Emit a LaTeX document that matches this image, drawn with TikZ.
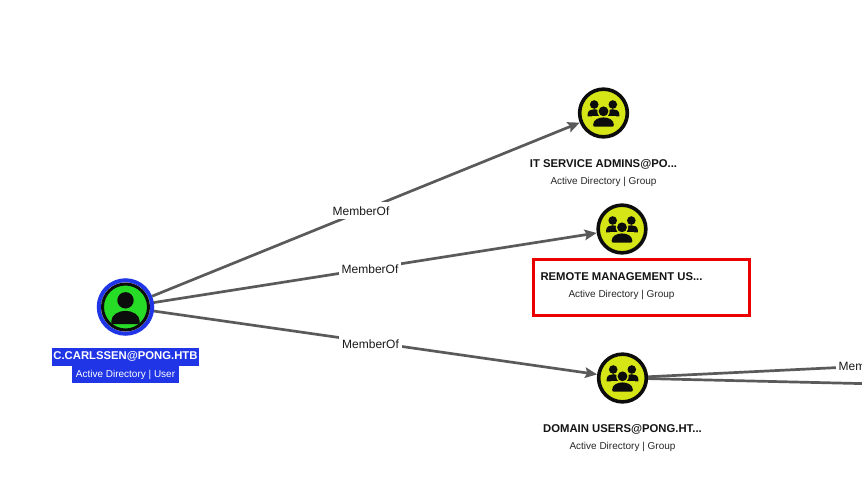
\documentclass[tikz,border=0pt]{standalone}
\usepackage{fontspec}
\usetikzlibrary{arrows.meta}
\setmainfont{Liberation Sans}
\definecolor{edgegray}{HTML}{5A5A5A}
\definecolor{grpyellow}{HTML}{D6E516}
\definecolor{usrgreen}{HTML}{27DC27}
\definecolor{selblue}{HTML}{1F35E6}
\definecolor{inkblack}{HTML}{0C0C0C}
\tikzset{
  groupnode/.style={circle,draw=inkblack,line width=3.6pt,fill=grpyellow,minimum size=47.7pt,inner sep=0pt},
  usernode/.style={circle,draw=inkblack,line width=3pt,fill=usrgreen,minimum size=46pt,inner sep=0pt},
  userring/.style={circle,draw=selblue,line width=4pt,minimum size=53.5pt,inner sep=0pt},
  rel/.style={draw=edgegray,line width=2.7pt},
  relarrow/.style={rel,-{Stealth[length=12pt,width=10.5pt,inset=2pt]}},
  edgelabel/.style={fill=white,inner xsep=3pt,inner ysep=2pt,text height=11pt,text depth=1.5pt,font=\fontsize{12}{14}\selectfont,text=black!90},
  titlelabel/.style={font=\bfseries\fontsize{11.3}{14}\selectfont,text=black!92,inner sep=0pt},
  sublabel/.style={font=\fontsize{10}{12}\selectfont,text=black!85,inner sep=0pt},
  seltitle/.style={titlelabel,text=white,fill=selblue,minimum width=147pt,minimum height=18pt},
  selsub/.style={sublabel,text=white,fill=selblue,minimum width=107pt,minimum height=16.5pt},
  redbox/.style={draw=red!92!black,line width=3pt,minimum width=216pt,minimum height=55.5pt,inner sep=0pt}
}
\newcommand{\groupicon}[1]{%
  \begin{scope}[shift={(#1)}]
    \fill[inkblack] (-9.3,-8.5) circle (4.3);
    \fill[inkblack] (9.3,-8.5) circle (4.3);
    \fill[inkblack] (-15.8,3.4) -- (-15.8,1) .. controls (-15.8,-2.5) and (-12,-3.8) .. (-9.3,-3.8) .. controls (-7,-3.8) and (-5.5,-3) .. (-4.5,-2.2) -- (-4.5,3.4) -- cycle;
    \fill[inkblack] (15.8,3.4) -- (15.8,1) .. controls (15.8,-2.5) and (12,-3.8) .. (9.3,-3.8) .. controls (7,-3.8) and (5.5,-3) .. (4.5,-2.2) -- (4.5,3.4) -- cycle;
    \fill[grpyellow] (0,-1.7) circle (6.2);
    \fill[inkblack] (0,-1.7) circle (4.9);
    \fill[grpyellow] (-12,15) rectangle (12,3.2);
    \fill[inkblack] (-9,13.6) .. controls (-10.3,13.6) and (-10.3,12.6) .. (-10.3,11.5) .. controls (-10.3,7) and (-5,4.4) .. (0,4.4) .. controls (5,4.4) and (10.3,7) .. (10.3,11.5) .. controls (10.3,12.6) and (10.3,13.6) .. (9,13.6) -- cycle;
  \end{scope}}
\newcommand{\usericon}[1]{%
  \begin{scope}[shift={(#1)}]
    \fill[inkblack] (0,-6.7) circle (8.2);
    \fill[inkblack] (-12.5,17) .. controls (-14.2,17) and (-14.2,16) .. (-14.2,14) .. controls (-14.2,8) and (-7,3.8) .. (0,3.8) .. controls (7,3.8) and (14.2,8) .. (14.2,14) .. controls (14.2,16) and (14.2,17) .. (12.5,17) -- cycle;
  \end{scope}}
\begin{document}
\begin{tikzpicture}[x=1pt,y=-1pt]
\useasboundingbox (0,0) rectangle (862,499);
\clip (0,0) rectangle (862,499);
% nodes
\node[userring] (ring) at (125.5,307) {};
\node[usernode] (user) at (125.5,307) {};
\node[groupnode] (g1) at (603.5,113) {};
\node[groupnode] (g2) at (622,229) {};
\node[groupnode] (g3) at (622.5,378) {};
\coordinate (off1) at (880,365.5);
\coordinate (off2) at (880,384);
% edges
\draw[relarrow] (ring) -- (g1);
\draw[relarrow] (ring) -- (g2);
\draw[relarrow] (ring) -- (g3);
\draw[rel] (g3) -- (off1);
\draw[rel] (g3) -- (off2);
% edge labels
\node[edgelabel] (l1) at (361,210.5) {MemberOf};
\node[edgelabel] (l2) at (370,268.5) {MemberOf};
\node[edgelabel] (l3) at (370.5,343.5) {MemberOf};
\node[edgelabel,anchor=west] (l4) at (835.5,366) {MemberOf};
% icons
\usericon{125.5,307}
\groupicon{603.5,113}
\groupicon{622,229}
\groupicon{622.5,378}
% text
\node[seltitle] (t0) at (125.5,356.5) {C.CARLSSEN@PONG.HTB};
\node[selsub] (s0) at (125.5,374.5) {Active Directory | User};
\node[titlelabel] (t1) at (603.5,164) {IT SERVICE ADMINS@PO...};
\node[sublabel] (s1) at (603.5,182) {Active Directory | Group};
\node[redbox] (box) at (641,287.5) {};
\node[titlelabel] (t2) at (621.5,277) {REMOTE MANAGEMENT US...};
\node[sublabel] (s2) at (621.5,295) {Active Directory | Group};
\node[titlelabel] (t3) at (622.5,429) {DOMAIN USERS@PONG.HT...};
\node[sublabel] (s3) at (622.5,446.5) {Active Directory | Group};
\end{tikzpicture}
\end{document}
